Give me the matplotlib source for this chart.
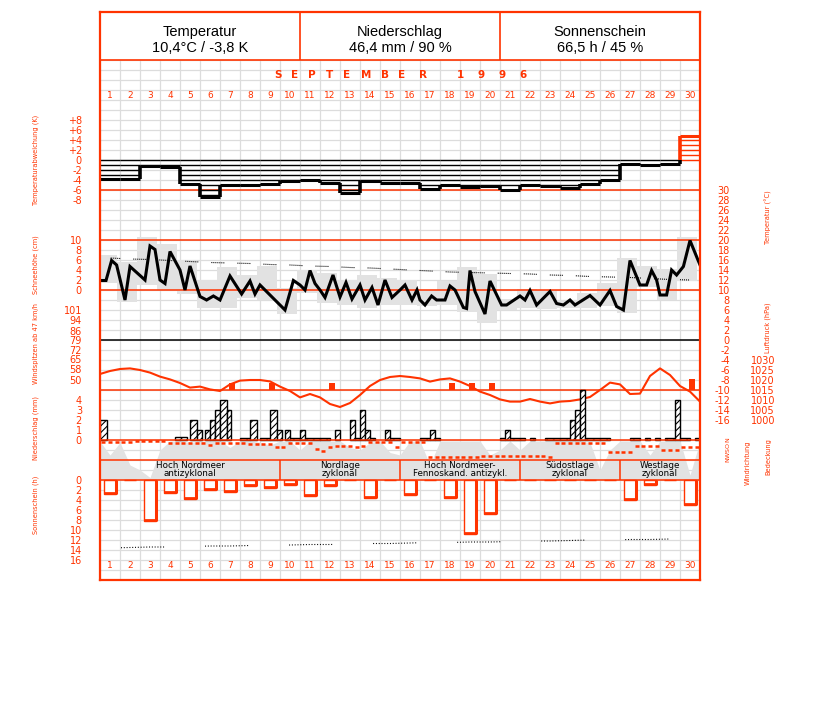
import numpy as np
import matplotlib
matplotlib.use('Agg')
import matplotlib.pyplot as plt

plt.rcParams['font.family'] = ['DejaVu Sans']
plt.rcParams['lines.scale_dashes'] = False
plt.rcParams['hatch.linewidth'] = 0.8

W, H = 827, 702
RED = '#ff3300'
GRID = '#dcdcdc'
GRAY = '#e2e2e2'

# ---------------- data ----------------
days = list(range(1, 31))
day_labels = [str(d) for d in days]

# daily temperature deviation (K)
tdev = [-3.8, -3.8, -1.2, -1.4, -4.8, -7.3, -5.0, -5.0, -4.7, -4.1,
        -4.0, -4.5, -6.5, -4.2, -4.5, -4.5, -5.8, -5.0, -5.3, -5.2,
        -5.9, -4.9, -5.2, -5.6, -4.8, -3.9, -0.7, -0.9, -0.7, 4.9]
tdev_ticks = [8, 6, 4, 2, 0, -2, -4, -6, -8]
tdev_labels = ['+8', '+6', '+4', '+2', '0', '-2', '-4', '-6', '-8']

# temperature curve (time in days, value in degC)
temp_t = [0.0, 0.3, 0.58, 0.83, 1.25, 1.5, 2.25, 2.5, 2.75, 3.0, 3.25, 3.5, 4.0, 4.25,
          4.5, 5.0, 5.33, 5.67, 6.0, 6.5, 7.08, 7.5, 7.75, 8.0, 8.5, 9.25, 9.67, 10.0,
          10.25, 10.5, 10.75, 11.0, 11.25, 11.65, 12.0, 12.3, 12.6, 13.0, 13.25, 13.6,
          13.9, 14.25, 14.6, 15.0, 15.25, 15.6, 15.85, 16.0, 16.25, 16.58, 16.83, 17.25,
          17.5, 17.75, 18.17, 18.33, 18.5, 18.75, 19.25, 19.5, 20.08, 20.33, 21.0, 21.25,
          21.5, 21.83, 22.5, 22.83, 23.17, 23.5, 23.75, 24.5, 25.0, 25.5, 25.83, 26.17,
          26.5, 27.0, 27.33, 27.58, 27.83, 28.0, 28.33, 28.58, 28.83, 29.17, 29.5, 30.0]
temp_v = [11.9, 11.9, 15.9, 15.0, 8.0, 14.7, 12.0, 18.8, 18.1, 12.0, 11.3, 17.7, 14.0, 10.0,
          14.8, 8.7, 8.0, 8.8, 8.0, 12.8, 9.2, 11.8, 9.2, 11.0, 9.0, 6.0, 11.9, 11.0,
          10.0, 13.9, 11.3, 10.0, 8.5, 13.0, 8.6, 11.5, 8.2, 11.0, 8.0, 10.5,
          7.0, 12.0, 8.5, 10.0, 11.0, 8.0, 10.0, 8.0, 7.0, 8.8, 8.0, 8.0,
          10.8, 10.0, 6.5, 6.3, 13.9, 9.7, 5.2, 11.8, 7.0, 7.0, 8.8, 8.0,
          9.9, 7.0, 9.7, 7.3, 7.0, 8.0, 7.0, 8.9, 7.0, 9.9, 6.7, 6.0,
          15.9, 11.0, 11.0, 13.9, 12.0, 9.0, 9.0, 14.0, 13.0, 14.7, 19.9, 15.0]

tmax = [17.0, 15.7, 20.7, 19.2, 16.1, 12.1, 14.7, 13.0, 14.8, 10.5,
        14.1, 13.5, 12.0, 13.0, 12.5, 12.0, 10.0, 11.9, 14.7, 13.3,
        8.3, 10.2, 9.8, 8.1, 9.5, 11.5, 16.5, 14.8, 14.3, 20.7]
tmin = [11.5, 7.7, 11.0, 10.0, 9.2, 6.5, 6.5, 8.5, 8.0, 5.2,
        9.5, 7.5, 7.0, 6.5, 7.0, 7.0, 6.8, 7.0, 5.7, 3.5,
        6.1, 6.5, 6.3, 6.5, 6.5, 6.8, 5.5, 10.7, 8.1, 11.9]
tnorm = [16.4, 16.2, 16.1, 15.9, 15.7, 15.5, 15.4, 15.3, 15.1, 15.0,
         14.8, 14.7, 14.5, 14.4, 14.2, 14.0, 13.8, 13.6, 13.5, 13.4,
         13.3, 13.2, 13.0, 12.9, 12.7, 12.6, 12.5, 12.3, 12.1, 12.0]
temp_ticks = list(range(30, -17, -2))
snow_ticks = [0, 2, 4, 6, 8, 10]

# wind peaks (km/h)
wind_days = [7, 9, 12, 18, 19, 20, 30]
wind_peak = [48, 48, 48, 48, 48, 48, 51]
wind_ticks = [50, 58, 65, 72, 79, 86, 94, 101]

# pressure (hPa), half-day samples
pres_t = [i * 0.5 for i in range(61)]
pres_v = [1023.0, 1024.5, 1025.5, 1025.8, 1025.0, 1023.7, 1021.7, 1020.3, 1018.5, 1016.2,
          1016.7, 1015.3, 1014.5, 1017.8, 1019.7, 1020.0, 1020.0, 1019.3, 1016.7, 1014.5,
          1011.3, 1013.0, 1011.3, 1008.0, 1006.5, 1008.5, 1012.5, 1017.0, 1020.0, 1021.5,
          1022.0, 1021.5, 1020.8, 1019.2, 1020.3, 1020.8, 1019.2, 1017.0, 1014.2, 1012.5,
          1010.3, 1009.2, 1009.2, 1010.5, 1009.2, 1008.3, 1009.2, 1009.5, 1010.3, 1011.5,
          1015.0, 1018.7, 1017.8, 1013.0, 1013.2, 1022.0, 1025.8, 1022.5, 1017.0, 1014.2,
          1009.2]
pres_ticks = [1030, 1025, 1020, 1015, 1010, 1005, 1000]

# precipitation (start, end in days; mm)
prec_start = [0.0, 3.75, 4.5, 4.83, 5.25, 5.5, 5.75, 6.0, 6.33, 7.0, 7.5, 8.0, 8.5, 8.83,
              9.25, 9.5, 10.0, 10.25, 11.0, 11.75, 12.5, 12.75, 13.0, 13.25, 13.5, 14.25,
              14.5, 16.0, 16.5, 16.75, 20.0, 20.25, 20.5, 21.5, 22.25, 23.5, 23.75, 24.0,
              24.25, 26.5, 27.25, 27.75, 28.25, 28.75, 29.0, 29.75]
prec_end = [0.33, 4.33, 4.83, 5.08, 5.5, 5.75, 6.0, 6.33, 6.53, 7.5, 7.83, 8.5, 8.83, 9.08,
            9.5, 10.0, 10.25, 11.0, 11.5, 12.0, 12.75, 13.0, 13.25, 13.5, 13.75, 14.5,
            15.0, 16.5, 16.75, 17.0, 20.25, 20.5, 21.25, 21.75, 23.5, 23.75, 24.0, 24.25,
            25.5, 27.0, 27.5, 28.0, 28.75, 29.0, 29.5, 30.0]
prec_mm = [2.0, 0.3, 2.0, 1.0, 1.0, 2.0, 3.0, 4.0, 3.0, 0.2, 2.0, 0.2, 3.0, 1.0,
           1.0, 0.2, 1.0, 0.2, 0.2, 1.0, 2.0, 0.2, 3.0, 1.0, 0.2, 1.0,
           0.2, 0.2, 1.0, 0.2, 0.2, 1.0, 0.2, 0.2, 0.2, 2.0, 3.0, 5.0,
           0.2, 0.2, 0.2, 0.2, 0.2, 4.0, 0.2, 0.2]
prec_ticks = [0, 1, 2, 3, 4]

# wind direction (deg), three observations per day
wdir = [42, 42, 42, 42, 42, 25, 25, 25, 25, 25, 48, 48, 48, 48, 48, 48, 90, 48,
        48, 48, 48, 48, 70, 70, 70, 70, 132, 132, 48, 48, 48, 48, 170, 190, 120, 110,
        110, 110, 120, 110, 35, 35, 35, 35, 120, 30, 30, 30, 30, 312, 312, 312, 312, 312,
        312, 312, 312, 290, 290, 290, 290, 290, 290, 290, 290, 290, 290, 300, 48, 48, 48, 48,
        48, 48, 48, 48, 210, 210, 210, 210, 102, 102, 102, 102, 180, 180, 180, 132, 132, 132]

# cloud cover (octas), half-day samples
cloud_t = [i * 0.5 for i in range(61)]
cloud_v = [7.7, 5.0, 7.5, 3.0, 2.0, 0.5, 6.0, 7.8, 7.8, 7.5,
           7.8, 7.8, 7.8, 6.5, 7.8, 7.8, 7.5, 7.0, 7.8, 7.8,
           6.0, 7.8, 7.8, 7.8, 7.8, 6.5, 6.0, 7.5, 7.8, 5.5,
           5.0, 7.8, 7.8, 3.0, 7.8, 7.8, 7.8, 7.8, 7.8, 5.0,
           6.0, 7.8, 6.0, 7.8, 7.8, 7.8, 7.8, 7.8, 7.8, 7.5,
           2.0, 6.0, 7.8, 7.8, 7.8, 5.0, 7.8, 7.8, 7.8, 1.0, 7.8]

# weather types
wt_start = [0, 9, 15, 21, 26]
wt_end = [9, 15, 21, 26, 30]
wt_line1 = ['Hoch Nordmeer', 'Nordlage', 'Hoch Nordmeer-', 'Südostlage', 'Westlage']
wt_line2 = ['antizyklonal', 'zyklonal', 'Fennoskand. antizykl.', 'zyklonal', 'zyklonal']

# sunshine (h) and possible sunshine
sun_h = [2.7, 0.0, 8.1, 2.5, 3.7, 2.0, 2.3, 1.2, 1.5, 1.0,
         3.2, 1.2, 0.0, 3.6, 0.0, 3.0, 0.0, 3.5, 10.8, 6.7,
         0.0, 0.0, 0.0, 0.0, 0.0, 0.0, 4.0, 1.0, 0.0, 5.0]
sun_max = [13.6, 13.5, 13.4, 13.4, 13.3, 13.2, 13.2, 13.1, 13.1, 13.0,
           12.9, 12.9, 12.8, 12.7, 12.7, 12.6, 12.5, 12.5, 12.4, 12.4,
           12.3, 12.2, 12.2, 12.1, 12.0, 12.0, 11.9, 11.9, 11.8, 11.7]
sun_ticks = [0, 2, 4, 6, 8, 10, 12, 14, 16]

header_titles = ['Temperatur', 'Niederschlag', 'Sonnenschein']
header_values = ['10,4°C / -3,8 K', '46,4 mm / 90 %', '66,5 h / 45 %']
month_title = 'SEPTEMBER  1996'

# ---------------- layout helpers ----------------
fig = plt.figure(figsize=(W / 100, H / 100), dpi=100)
fig.patch.set_facecolor('white')

GX0, GX1, GY0, GY1 = 100, 700, 60, 580


def px_axes(x0, y0, x1, y1, z):
    ax = fig.add_axes([x0 / W, 1 - y1 / H, (x1 - x0) / W, (y1 - y0) / H], zorder=z)
    ax.patch.set_alpha(0)
    for s in ax.spines.values():
        s.set_visible(False)
    ax.set_xticks([])
    ax.set_yticks([])
    return ax


def panel(z, ya, va, yb, vb):
    """overlay axes on the grid area; value va at pixel ya, vb at pixel yb"""
    ax = px_axes(GX0, GY0, GX1, GY1, z)
    slope = (vb - va) / (yb - ya)
    ax.set_ylim(va + (GY1 - ya) * slope, va + (GY0 - ya) * slope)
    ax.set_xlim(0, 30)
    return ax


def left_ticks(ax, ticks, labels=None):
    ax.set_yticks(ticks)
    ax.set_yticklabels(labels if labels else [str(t) for t in ticks])
    ax.tick_params(axis='y', left=False, right=False, labelleft=True, labelright=False,
                   pad=13, labelsize=7, labelcolor=RED, length=0)


def right_ticks(ax, ticks, pad_px):
    ax.set_yticks(ticks)
    ax.set_yticklabels([str(t) for t in ticks])
    ax.tick_params(axis='y', left=False, right=False, labelleft=False, labelright=True,
                   pad=pad_px * 0.72, labelsize=7, labelcolor=RED, length=0)
    for lb in ax.get_yticklabels():
        lb.set_horizontalalignment('right')


# ---------------- grid ----------------
axg = px_axes(GX0, GY0, GX1, GY1, 1)
axg.set_xlim(0, 30)
axg.set_ylim(52, 0)
axg.set_xticks(np.arange(31))
axg.set_yticks(np.arange(53))
axg.tick_params(length=0, labelleft=False, labelbottom=False)
axg.grid(True, color=GRID, lw=0.9)
axg.set_axisbelow(True)
for i, lab in enumerate(day_labels):
    axg.text(i + 0.5, 3.6, lab, ha='center', va='center', color=RED, fontsize=6.5)
    axg.text(i + 0.5, 50.6, lab, ha='center', va='center', color=RED, fontsize=6.5)

# ---------------- cloud cover + weather types ----------------
axc = panel(2, 480, 0, 440, 8)
axc.fill_between(cloud_t, 0, cloud_v, color=GRAY, lw=0, zorder=1)
axc.axhline(4, color=RED, lw=1.1, zorder=3)
axc.vlines(wt_start[1:], 0, 4, color=RED, lw=1.1, zorder=3)
for s, e, l1, l2 in zip(wt_start, wt_end, wt_line1, wt_line2):
    axc.text((s + e) / 2, 2.8, l1, ha='center', va='center', fontsize=6.3, color='black', zorder=4)
    axc.text((s + e) / 2, 1.2, l2, ha='center', va='center', fontsize=6.3, color='black', zorder=4)

# ---------------- temperature panel ----------------
axt = panel(3, 340, 0, 240, 20)
centers = np.arange(30) + 0.5
axt.bar(centers - 0.15, np.array(tmax) - np.array(tmin), bottom=tmin, width=1.0,
        color=GRAY, lw=0, zorder=1)
axt.plot(centers, tnorm, color='black', lw=0.8,
         linestyle=(2, [0.72, 0.72] * 6 + [0.72, 9.4]), zorder=2)
axt.axhline(20, color=RED, lw=1.1, zorder=3)
axt.axhline(10, color=RED, lw=1.1, zorder=3)
axt.axhline(0, color='black', lw=1.1, zorder=3)
axt.plot(temp_t, temp_v, color='black', lw=2.2, zorder=4, solid_joinstyle='miter')
right_ticks(axt, temp_ticks, 30)

axs = panel(3, 290, 0, 240, 10)
left_ticks(axs, snow_ticks)

# ---------------- temperature deviation ----------------
axd = panel(4, 160, 0, 200, -8)
axd.axhline(-6, color=RED, lw=1.1, zorder=1)
prev = 0.0
for i, v in enumerate(tdev):
    col = 'black' if v < 0 else RED
    if v < 0:
        levels = list(range(0, int(np.ceil(v)) - 1, -1))
    else:
        levels = list(range(0, int(np.floor(v)) + 1))
    axd.hlines(levels, i, i + 1, color=col, lw=1.0, zorder=2)
    axd.hlines(v, i, i + 1, color=col, lw=2.2, zorder=3)
    if i > 0:
        lo, hi = min(prev, v), max(prev, v)
        if lo < 0 < hi:
            axd.vlines(i, lo, 0, color='black', lw=2.6, zorder=3)
            axd.vlines(i, 0, hi, color=RED, lw=2.6, zorder=3)
        else:
            axd.vlines(i, lo, hi, color=col, lw=2.6, zorder=3)
    prev = v
left_ticks(axd, tdev_ticks, tdev_labels)

# ---------------- pressure ----------------
axp = panel(5, 360, 1030, 420, 1000)
axp.axhline(1015, color=RED, lw=1.1, zorder=1)
axp.plot(pres_t, pres_v, color=RED, lw=1.5, zorder=2)
right_ticks(axp, pres_ticks, 75)

# ---------------- wind peaks ----------------
axw = panel(5, 380, 50, 310, 101)
wbase = axw.transData.inverted().transform(axw.transAxes.transform((0, (GY1 - 390) / (GY1 - GY0))))[1]
axw.bar(np.array(wind_days) - 0.4, np.array(wind_peak) - wbase, bottom=wbase, width=0.3,
        color=RED, lw=0, zorder=3)
left_ticks(axw, wind_ticks)

# ---------------- precipitation ----------------
axr = panel(6, 440, 0, 400, 4)
axr.bar(prec_start, prec_mm, width=np.array(prec_end) - np.array(prec_start), align='edge',
        color='white', edgecolor='black', hatch='/////', lw=1.0, zorder=2)
axr.axhline(0, color=RED, lw=1.1, zorder=3)
left_ticks(axr, prec_ticks)

# ---------------- wind direction ----------------
axn = panel(6, 440, 0, 460, 360)
wdir_t = [d + k / 3 + 1 / 6 for d in range(30) for k in range(3)]
axn.plot(wdir_t, wdir, linestyle='none', marker='_', ms=3.2, mew=1.8, color=RED, zorder=3)
for lab, deg in zip(['N', 'O', 'S', 'W', 'N'], [0, 90, 180, 270, 360]):
    axn.text(1.047, deg, lab, transform=axn.get_yaxis_transform(), rotation=90,
             ha='center', va='center', fontsize=4.5, color=RED)

# ---------------- sunshine ----------------
axu = panel(6, 480, 0, 560, 16)
sw = 0.63
axu.bar(centers, sun_h, width=sw, color='white', edgecolor=RED, lw=1.0, zorder=2)
sh = np.array(sun_h)
has = sh > 0
axu.vlines(centers[has] + sw / 2 - 0.03, 0, sh[has], color=RED, lw=2.2, zorder=3)
axu.hlines(sh[has] - 0.15, centers[has] - sw / 2, centers[has] + sw / 2, color=RED, lw=2.0, zorder=3)
axu.plot(centers, sun_max, color='black', lw=0.8,
         linestyle=(52.6, [0.72, 1.3] * 15 + [0.72, 29.5]), zorder=2)
axu.axhline(0, color=RED, lw=1.1, zorder=3)
left_ticks(axu, sun_ticks)

# ---------------- frame & header ----------------
axf = px_axes(100, 12, 700, 580, 10)
axf.set_xlim(100, 700)
axf.set_ylim(580, 12)
for s in axf.spines.values():
    s.set_visible(True)
    s.set_color(RED)
    s.set_linewidth(1.6)
axf.axhline(60, color=RED, lw=1.2)
axf.vlines([300, 500], 12, 60, color=RED, lw=1.2)
for cx, t1, t2 in zip([200, 400, 600], header_titles, header_values):
    axf.text(cx, 32, t1, ha='center', va='center', fontsize=10.5, family='Liberation Sans')
    axf.text(cx, 48, t2, ha='center', va='center', fontsize=10.5, family='Liberation Sans')
mx = [278, 295, 312, 330, 347, 366, 385, 402, 423, 441, 460, 481, 502, 523]
for ch, x in zip(month_title.replace('  ', ' '), mx):
    if ch != ' ':
        axf.text(x, 75, ch, ha='center', va='center', fontsize=7.5, color=RED, weight='bold')

# ---------------- axis titles ----------------
def ftext(x, y, s, size=4.8):
    fig.text(x / W, 1 - y / H, s, rotation=90, ha='center', va='center', color=RED,
             fontsize=size)

ftext(36, 160, 'Temperaturabweichung (K)')
ftext(36, 265, 'Schneehöhe (cm)')
ftext(36, 343, 'Windspitzen ab 47 km/h')
ftext(36, 428, 'Niederschlag (mm)')
ftext(36, 505, 'Sonnenschein (h)')
ftext(768, 217, 'Temperatur (°C)')
ftext(768, 328, 'Luftdruck (hPa)')
ftext(748, 463, 'Windrichtung')
ftext(768, 457, 'Bedeckung')

fig.savefig('out.png', dpi=100, facecolor='white')
